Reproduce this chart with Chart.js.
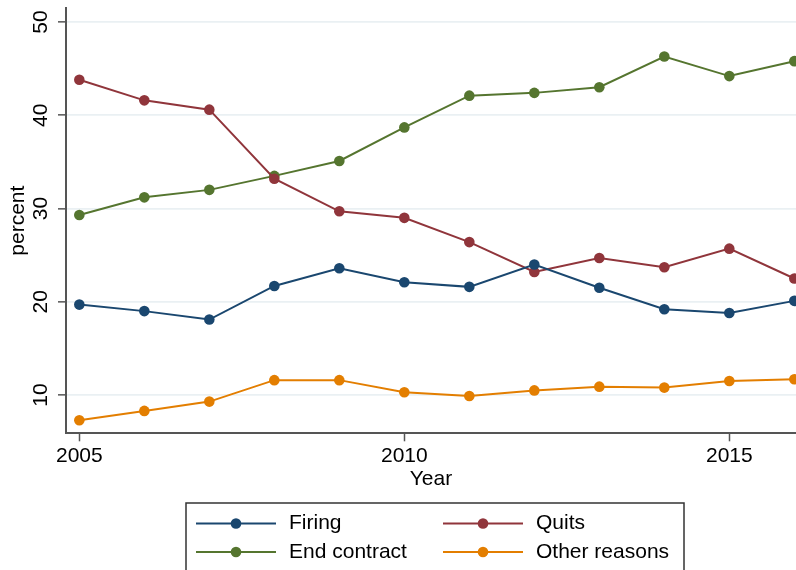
<!DOCTYPE html>
<html>
<head>
<meta charset="utf-8">
<title>Separation reasons by year</title>
<script src="https://cdn.jsdelivr.net/npm/chart.js@4.4.1/dist/chart.umd.min.js"></script>
<style>
  html, body { margin: 0; padding: 0; background: #ffffff; }
  #wrap { width: 796px; height: 570px; position: relative; }
</style>
</head>
<body>
<div id="wrap"><canvas id="chart" width="796" height="570"></canvas></div>
<script>
// Share of separations by reason, percent
const years = [2005, 2006, 2007, 2008, 2009, 2010, 2011, 2012, 2013, 2014, 2015, 2016];
const firing = [19.7, 19.0, 18.1, 21.7, 23.6, 22.1, 21.6, 24.0, 21.5, 19.2, 18.8, 20.1];
const quits = [43.8, 41.6, 40.6, 33.2, 29.7, 29.0, 26.4, 23.2, 24.7, 23.7, 25.7, 22.5];
const endContract = [29.3, 31.2, 32.0, 33.5, 35.1, 38.7, 42.1, 42.4, 43.0, 46.3, 44.2, 45.8];
const otherReasons = [7.3, 8.3, 9.3, 11.6, 11.6, 10.3, 9.9, 10.5, 10.9, 10.8, 11.5, 11.7];

const seriesNames = ['Firing', 'Quits', 'End contract', 'Other reasons'];
const xTickValues = [2005, 2010, 2015];
const yTickValues = [10, 20, 30, 40, 50];

const colors = ['#1a476f', '#90353b', '#55752f', '#e37e00'];
const FONT = '"Liberation Sans", Arial, Helvetica, sans-serif';
const AXIS = '#555555';
const GRID = '#eaf0f3';

function series(name, values, color) {
  return {
    label: name,
    data: years.map((y, i) => ({ x: y, y: values[i] })),
    borderColor: color,
    backgroundColor: color,
    borderWidth: 2,
    pointRadius: 5.3,
    pointBorderWidth: 0,
    pointHoverRadius: 5.3,
    tension: 0,
    clip: false
  };
}

// Axes keep their fitted size without extra label padding
function noScalePadding(scale) {
  scale.paddingTop = 0;
  scale.paddingBottom = 0;
  scale.paddingLeft = 0;
  scale.paddingRight = 0;
}

// Boxed two-column legend under the plot
const boxedLegend = {
  id: 'boxedLegend',
  afterDraw(chart) {
    const ctx = chart.ctx;
    const box = { left: 186, top: 503, right: 684, bottom: 590 };
    ctx.save();
    ctx.strokeStyle = '#333333';
    ctx.lineWidth = 1.5;
    ctx.strokeRect(box.left, box.top, box.right - box.left, box.bottom - box.top);
    const cols = [196, 443];
    const rows = [523.5, 552];
    ctx.font = '21px ' + FONT;
    ctx.textBaseline = 'middle';
    ctx.textAlign = 'left';
    chart.data.datasets.forEach((ds, i) => {
      const cx = cols[i % 2];
      const cy = rows[Math.floor(i / 2)];
      ctx.strokeStyle = ds.borderColor;
      ctx.lineWidth = 2;
      ctx.beginPath();
      ctx.moveTo(cx, cy);
      ctx.lineTo(cx + 80, cy);
      ctx.stroke();
      ctx.fillStyle = ds.backgroundColor;
      ctx.beginPath();
      ctx.arc(cx + 40, cy, 5.3, 0, Math.PI * 2);
      ctx.fill();
      ctx.fillStyle = '#000000';
      ctx.fillText(ds.label, cx + 93, cy);
    });
    ctx.restore();
  }
};

new Chart(document.getElementById('chart'), {
  type: 'line',
  data: {
    datasets: [
      series(seriesNames[0], firing, colors[0]),
      series(seriesNames[1], quits, colors[1]),
      series(seriesNames[2], endContract, colors[2]),
      series(seriesNames[3], otherReasons, colors[3])
    ]
  },
  options: {
    responsive: false,
    animation: false,
    devicePixelRatio: 1,
    layout: { autoPadding: false, padding: { top: 8, right: 0, bottom: 78, left: 0 } },
    plugins: {
      legend: { display: false },
      tooltip: { enabled: false }
    },
    scales: {
      x: {
        type: 'linear',
        min: 2004.795,
        max: 2016.026,
        offset: false,
        afterBuildTicks(scale) { scale.ticks = xTickValues.map(v => ({ value: v })); },
        afterFit(scale) { scale.height = 58.7; noScalePadding(scale); },
        ticks: {
          autoSkip: false,
          maxRotation: 0,
          padding: 2,
          color: '#000000',
          font: { family: FONT, size: 21 },
          callback: v => String(v)
        },
        grid: {
          drawOnChartArea: false,
          drawTicks: true,
          tickLength: 8,
          tickColor: AXIS,
          tickWidth: 1.5
        },
        border: { display: true, color: AXIS, width: 2 },
        title: {
          display: true,
          text: 'Year',
          color: '#000000',
          font: { family: FONT, size: 21 },
          padding: { top: 0, bottom: 0 }
        }
      },
      y: {
        type: 'linear',
        min: 5.9,
        max: 51.5,
        afterBuildTicks(scale) { scale.ticks = yTickValues.map(v => ({ value: v })); },
        afterFit(scale) { scale.width = 66; noScalePadding(scale); },
        ticks: {
          autoSkip: false,
          minRotation: 90,
          maxRotation: 90,
          crossAlign: 'center',
          padding: 5,
          color: '#000000',
          font: { family: FONT, size: 21 },
          callback: v => String(v)
        },
        grid: {
          color: GRID,
          lineWidth: 1.7,
          drawTicks: true,
          tickLength: 8,
          tickColor: AXIS,
          tickWidth: 1.5
        },
        border: { display: true, color: AXIS, width: 2 },
        title: {
          display: true,
          text: 'percent',
          color: '#000000',
          font: { family: FONT, size: 21 },
          padding: { top: 6, bottom: 0 }
        }
      }
    }
  },
  plugins: [boxedLegend]
});
</script>
</body>
</html>
